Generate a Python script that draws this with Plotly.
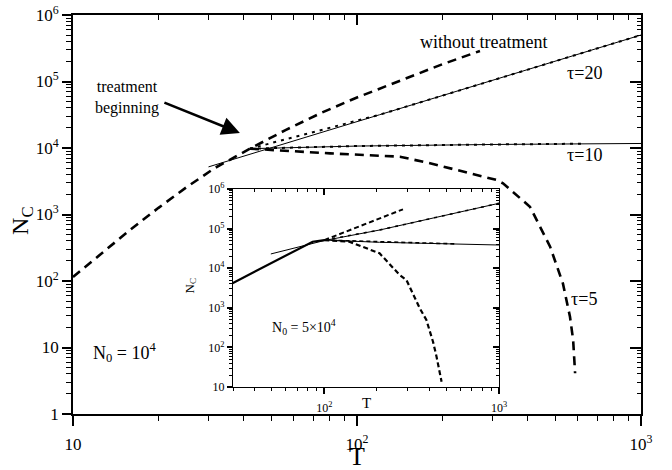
import math
import plotly.graph_objects as go

# ---------------- data ----------------
# main panel, N0 = 1e4
main_free_T = [10, 12.6, 15.8, 20, 25.1, 31.6, 42, 56, 75, 100, 141, 200, 271]
main_free_N = [115, 263, 575, 1260, 2570, 5010, 9770, 18600, 33900, 57500, 102000, 182000, 288000]

main_t20_theory_T = [30, 42, 120, 1000]
main_t20_theory_N = [5200, 8100, 31600, 500000]
main_t20_sim_T = [42, 120, 300, 600, 1000]
main_t20_sim_N = [9770, 31600, 104000, 256000, 500000]

main_t10_theory_T = [42, 100, 300, 1000]
main_t10_theory_N = [9770, 10700, 11300, 11700]
main_t10_sim_T = [42, 100, 300, 625]
main_t10_sim_N = [9770, 10700, 11300, 11600]

main_t5_T = [42, 80.4, 141.6, 180.7, 310.5, 326.6, 406.4, 478.6, 530.9, 562.3, 576.8, 586.1]
main_t5_N = [9770, 8300, 7400, 5900, 3300, 2940, 1310, 328, 92, 29, 13, 4.1]

# inset panel, N0 = 5e4
ins_pre_T = [29.7, 85.7, 100]
ins_pre_N = [4160, 46700, 51300]
ins_free_T = [100, 282]
ins_free_N = [51300, 307000]

ins_t20_theory_T = [49.4, 100, 207, 1000]
ins_t20_theory_N = [22900, 50000, 92000, 436000]
ins_t20_sim_T = [100, 207, 1000]
ins_t20_sim_N = [51300, 92000, 436000]

ins_t10_theory_T = [100, 207, 1000]
ins_t10_theory_N = [51300, 45100, 38500]
ins_t10_sim_T = [100, 250, 571]
ins_t10_sim_N = [51300, 45000, 41000]

ins_t5_T = [100, 139, 207, 270, 295, 352, 384, 419, 439, 469]
ins_t5_N = [51300, 46700, 23800, 6760, 5040, 970, 492, 139, 58, 13.6]

main_x_ticks = [10, 100, 1000]
main_x_text = ["10", "10<sup>2</sup>", "10<sup>3</sup>"]
main_y_ticks = [1, 10, 100, 1e3, 1e4, 1e5, 1e6]
main_y_text = ["1", "10", "10<sup>2</sup>", "10<sup>3</sup>", "10<sup>4</sup>", "10<sup>5</sup>", "10<sup>6</sup>"]
ins_x_ticks = [100, 1000]
ins_x_text = ["10<sup>2</sup>", "10<sup>3</sup>"]
ins_y_ticks = [10, 100, 1e3, 1e4, 1e5, 1e6]
ins_y_text = ["10", "10<sup>2</sup>", "10<sup>3</sup>", "10<sup>4</sup>", "10<sup>5</sup>", "10<sup>6</sup>"]

# ---------------- figure ----------------
FONT = "Liberation Serif"
INK = "black"

fig = go.Figure()

def line(x, y, xa, ya, width, dash="solid"):
    fig.add_trace(go.Scatter(x=x, y=y, mode="lines", xaxis=xa, yaxis=ya,
                             line=dict(color=INK, width=width, dash=dash),
                             showlegend=False, hoverinfo="skip"))

# main
line(main_free_T, main_free_N, "x", "y", 2.6, "9px,6px")
line(main_t20_theory_T, main_t20_theory_N, "x", "y", 1.0)
line(main_t20_sim_T, main_t20_sim_N, "x", "y", 2.0, "3px,5px")
line(main_t10_theory_T, main_t10_theory_N, "x", "y", 1.0)
line(main_t10_sim_T, main_t10_sim_N, "x", "y", 2.0, "3px,5px")
line(main_t5_T, main_t5_N, "x", "y", 2.6, "9px,6px")

# inset
line(ins_pre_T, ins_pre_N, "x2", "y2", 2.2)
line(ins_free_T, ins_free_N, "x2", "y2", 2.0, "5px,3px")
line(ins_t20_theory_T, ins_t20_theory_N, "x2", "y2", 1.0)
line(ins_t20_sim_T, ins_t20_sim_N, "x2", "y2", 1.6, "3px,5px")
line(ins_t10_theory_T, ins_t10_theory_N, "x2", "y2", 1.0)
line(ins_t10_sim_T, ins_t10_sim_N, "x2", "y2", 1.6, "4px,3px")
line(ins_t5_T, ins_t5_N, "x2", "y2", 2.2, "5px,3px")

# invisible one-point traces so that the overlay (top/right, inside-tick) axes are drawn
for n in (3, 4):
    fig.add_trace(go.Scatter(x=[100], y=[100], mode="markers", xaxis=f"x{n}", yaxis=f"y{n}",
                             marker=dict(size=1, opacity=0), showlegend=False,
                             hoverinfo="skip"))

MAIN_X = [0.0, 1.0]
MAIN_Y = [0.0, 1.0]
INS_X = [0.2817, 0.75]
INS_Y = [0.0677, 0.5639]

def axis(rng, **kw):
    d = dict(type="log", range=rng, gridcolor="rgba(0,0,0,0)",
             linecolor=INK, tickcolor=INK)
    d.update(kw)
    return d

def minor(ticks, ln, w=1.3):
    return dict(dtick="D1", ticks=ticks, ticklen=ln, tickwidth=w, tickcolor=INK,
                gridcolor="rgba(0,0,0,0)")

def overlay(rng, base, side, anchor, vals, ticklen, minlen, tw):
    return axis(rng, overlaying=base, side=side, anchor=anchor, showline=False,
                showticklabels=False, tickmode="array", tickvals=vals, ticks="inside",
                ticklen=ticklen, tickwidth=tw, minor=minor("inside", minlen))

MX = [1, 3]
MY = [0, 6]
IX = [math.log10(30), 3]
IY = [1, 6]

fig.update_layout(
    width=672, height=470,
    margin=dict(l=73, r=31, t=15, b=56, autoexpand=False),
    paper_bgcolor="white", plot_bgcolor="white",
    font=dict(family=FONT, color=INK),
    xaxis=axis(MX, domain=MAIN_X, anchor="y", showline=True, linewidth=1.6, mirror=True,
               automargin=False,
               tickmode="array", tickvals=main_x_ticks, ticktext=main_x_text,
               ticks="outside", ticklen=10, tickwidth=1.8, ticklabelstandoff=4,
               tickfont=dict(size=17, family=FONT), minor=minor("outside", 5)),
    yaxis=axis(MY, domain=MAIN_Y, anchor="x", showline=True, linewidth=1.6, mirror=True,
               automargin=False,
               tickmode="array", tickvals=main_y_ticks, ticktext=main_y_text,
               ticks="outside", ticklen=9, tickwidth=1.8,
               tickfont=dict(size=17, family=FONT), minor=minor("outside", 5)),
    xaxis3=overlay(MX, "x", "top", "y3", main_x_ticks, 10, 5, 1.8),
    yaxis3=overlay(MY, "y", "right", "x3", main_y_ticks, 11, 4, 1.8),
    xaxis2=axis(IX, domain=INS_X, anchor="y2", showline=True, linewidth=1.4, mirror=True,
                automargin=False,
                tickmode="array", tickvals=ins_x_ticks, ticktext=ins_x_text,
                ticks="outside", ticklen=6, tickwidth=1.5, ticklabelstandoff=3,
                tickfont=dict(size=12, family=FONT), minor=minor("outside", 3, 1.2)),
    yaxis2=axis(IY, domain=INS_Y, anchor="x2", showline=True, linewidth=1.4, mirror=True,
                automargin=False,
                tickmode="array", tickvals=ins_y_ticks, ticktext=ins_y_text,
                ticks="outside", ticklen=5, tickwidth=1.5,
                tickfont=dict(size=12, family=FONT), minor=minor("outside", 3, 1.2)),
    xaxis4=overlay(IX, "x2", "top", "y4", ins_x_ticks, 6, 3, 1.5),
    yaxis4=overlay(IY, "y2", "right", "x4", ins_y_ticks, 6, 3, 1.5),
)

def note(text, x, y, size, xref="x", yref="y", **kw):
    fig.add_annotation(text=text, x=x, y=y, xref=xref, yref=yref, showarrow=False,
                       xanchor="center", yanchor="middle",
                       font=dict(size=size, family=FONT, color=INK), **kw)

L = math.log10
# axis titles
note("T", 0.5, -0.107, 26, xref="paper", yref="paper")
note("N<sub>C</sub>", -0.09, 0.486, 24, xref="paper", yref="paper", textangle=-90)

note("without treatment", L(278), L(3.93e5), 18)
note("τ=20", L(630), L(1.34e5), 18)
note("τ=10", L(630), L(7850), 18)
note("τ=5", L(630), L(53.6), 18)
note("treatment<br>beginning", L(15.5), L(5.65e4), 16)
note("N<sub>0</sub> = 10<sup>4</sup>", L(15.2), L(8.5), 18)

# arrow
fig.add_annotation(x=L(38.7), y=L(16800), xref="x", yref="y",
                   ax=-77, ay=-31, axref="pixel", ayref="pixel", text="",
                   showarrow=True, arrowhead=2, arrowsize=1.4, arrowwidth=2.6,
                   arrowcolor=INK)

# inset texts
note("N<sub>0</sub> = 5×10<sup>4</sup>", L(76.8), L(327), 14, xref="x2", yref="y2")
note("T", 0.516, 0.0276, 15, xref="paper", yref="paper")
note("N<sub>C</sub>", 0.207, 0.321, 13, xref="paper", yref="paper", textangle=-90)

fig.write_html("out.html")
